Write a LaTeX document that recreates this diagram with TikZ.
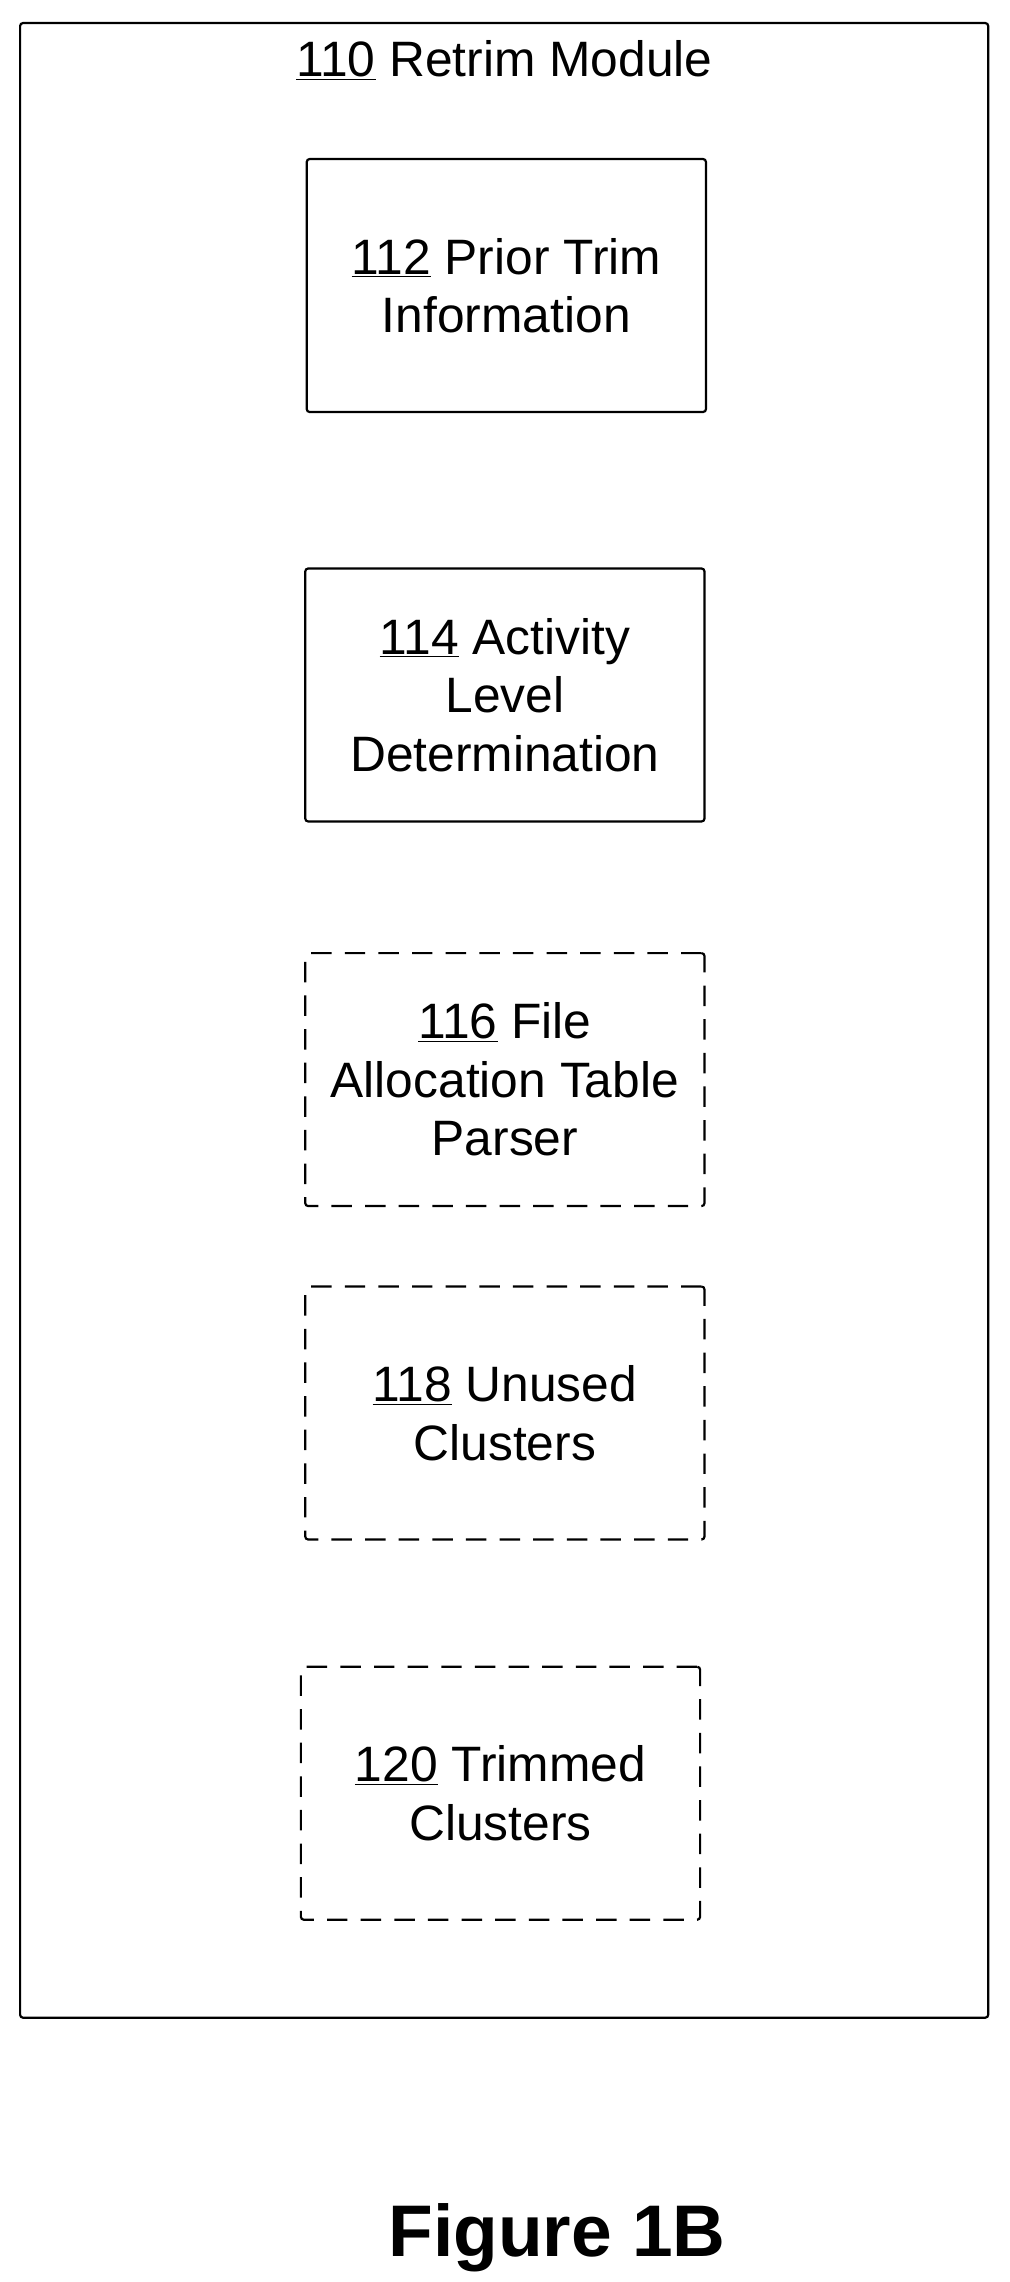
\documentclass[tikz,border=0pt]{standalone}
\usepackage{fontspec}
\setmainfont{Liberation Sans}
\begin{document}
\begin{tikzpicture}[x=1pt,y=-1pt,
  box/.style={draw,line width=1.5pt,rounded corners=2pt,minimum width=273pt,minimum height=173pt,align=center,font=\fontsize{34}{40}\selectfont,anchor=north west,inner sep=0pt},
  dbox/.style={box,dash pattern=on 14pt off 9pt}]
\useasboundingbox (0,0) rectangle (690,1560.5);
\node[draw,line width=1.5pt,rounded corners=2pt,minimum width=662pt,minimum height=1364pt,anchor=north west] (outer) at (13,15) {};
\node[font=\fontsize{34}{40}\selectfont] (t) at (345,41) {\underline{110} Retrim Module};
\node[box] (a) at (209,108) {\underline{112} Prior Trim\\Information};
\node[box] (b) at (208,388) {\underline{114} Activity\\Level\\Determination};
\node[dbox] (c) at (208,651) {\underline{116} File\\Allocation Table\\Parser};
\node[dbox] (d) at (208,879) {\underline{118} Unused\\Clusters};
\node[dbox] (e) at (205,1139) {\underline{120} Trimmed\\Clusters};
\node[font=\fontsize{50}{56}\selectfont\bfseries] (f) at (381,1530) {Figure 1B};
\end{tikzpicture}
\end{document}
